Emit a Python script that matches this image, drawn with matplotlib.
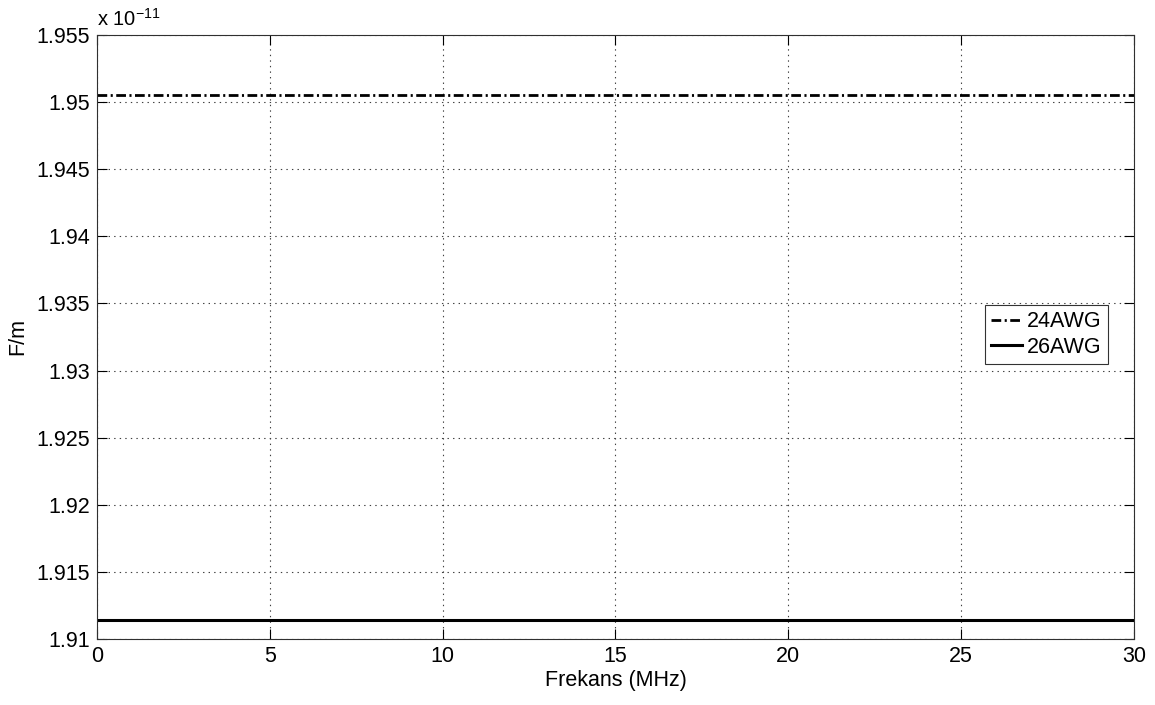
import matplotlib
matplotlib.use("Agg")
import matplotlib.pyplot as plt
import numpy as np
from matplotlib.ticker import FuncFormatter

plt.rcParams.update({
    "font.family": ["Liberation Sans", "DejaVu Sans"],
    "mathtext.default": "regular",
    "font.size": 15.5,
    "lines.scale_dashes": False,
})

# line capacitance per unit length, flat across the band
freq_mhz = [0, 30]
cap_24awg = [1.9505e-11, 1.9505e-11]
cap_26awg = [1.9114e-11, 1.9114e-11]
labels = ["24AWG", "26AWG"]

y_ticks = np.array([1.91, 1.915, 1.92, 1.925, 1.93, 1.935, 1.94, 1.945, 1.95, 1.955]) * 1e-11
x_ticks = [0, 5, 10, 15, 20, 25, 30]

fig = plt.figure(figsize=(11.55, 7.05), dpi=100)
ax = fig.add_axes([0.084, 0.0936, 0.8978, 0.8568])

l24, = ax.plot(freq_mhz, cap_24awg, color="black", linewidth=2.0, label=labels[0])
l24.set_dashes((7.0, 2.5, 1.5, 2.5))
ax.plot(freq_mhz, cap_26awg, color="black", linewidth=2.2, linestyle="-", label=labels[1])

ax.set_xlim(0, 30)
ax.set_ylim(y_ticks[0], y_ticks[-1])
ax.set_xticks(x_ticks)
ax.set_yticks(y_ticks)
ax.yaxis.set_major_formatter(FuncFormatter(lambda v, pos: f"{v / 1e-11:.4g}"))

ax.grid(True, color="#404040", linestyle=(0, (1, 3)), linewidth=0.8)
ax.tick_params(direction="in", length=7, width=0.8, top=True, right=True,
               labelsize=15.5, pad=5)
for sp in ax.spines.values():
    sp.set_linewidth(0.8)
    sp.set_color("#303030")

ax.text(0.0, 1.008, r"x 10$^{-11}$", transform=ax.transAxes,
        ha="left", va="bottom", fontsize=14.5)

ax.set_xlabel("Frekans (MHz)", fontsize=15.5)
ax.set_ylabel("F/m", fontsize=15.5)
ax.xaxis.set_label_coords(0.5, -0.052)
ax.xaxis.label.set_va("top")
ax.yaxis.set_label_coords(-0.076, 0.5)
ax.yaxis.label.set_va("center")

leg = ax.legend(loc="upper left", bbox_to_anchor=(0.856, 0.553),
                fontsize=15.5, frameon=True, fancybox=False,
                handlelength=1.45, handletextpad=0.2, borderpad=0.3,
                labelspacing=0.2, borderaxespad=0)
leg.get_frame().set_edgecolor("black")
leg.get_frame().set_linewidth(0.8)

fig.savefig("out.png", dpi=100)
